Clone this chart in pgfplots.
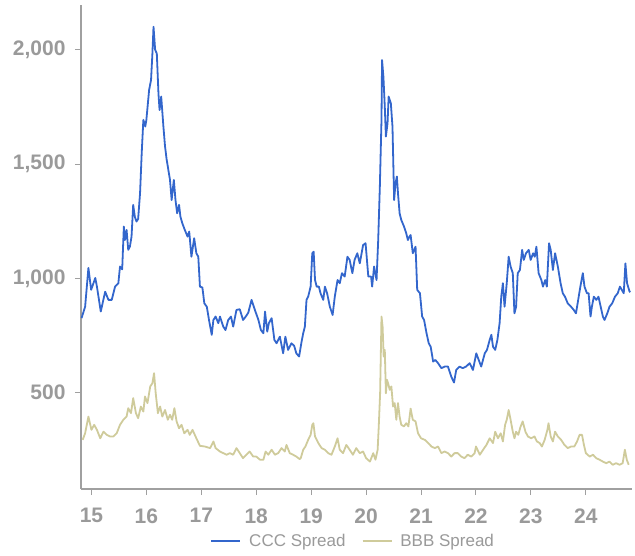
\documentclass[border=0pt]{standalone}
\usepackage{pgfplots}
\pgfplotsset{compat=1.18}
\usepackage{fontspec}
\setmainfont{Liberation Sans}

\definecolor{cccblue}{HTML}{3366CC}
\definecolor{bbbkhaki}{HTML}{CFCB9B}
\definecolor{txtgray}{HTML}{9A9A9A}
\definecolor{axgray}{HTML}{A0A0A0}

% CCC spread (x = year, 15 = 2015)
\pgfplotstableread{
x y
14.82 826
14.885 876
14.945 1046
14.995 950
15.07 1002
15.10 964
15.17 855
15.25 942
15.31 906
15.37 906
15.43 964
15.49 979
15.52 1052
15.56 1040
15.59 1227
15.61 1168
15.64 1212
15.67 1125
15.70 1139
15.73 1183
15.76 1322
15.79 1270
15.82 1249
15.85 1260
15.885 1373
15.915 1548
15.945 1694
15.98 1665
16.00 1694
16.05 1825
16.085 1869
16.11 1985
16.13 2102
16.16 2000
16.19 1985
16.22 1810
16.24 1737
16.27 1796
16.31 1665
16.34 1577
16.37 1519
16.39 1490
16.43 1431
16.46 1343
16.50 1431
16.53 1343
16.56 1285
16.595 1322
16.62 1270
16.655 1241
16.70 1212
16.75 1183
16.78 1205
16.82 1095
16.87 1176
16.91 1110
16.945 1095
16.975 964
17.02 960
17.055 891
17.10 876
17.14 818
17.19 753
17.22 818
17.26 833
17.31 804
17.34 833
17.40 789
17.44 774
17.49 818
17.54 833
17.58 789
17.64 862
17.70 865
17.76 818
17.81 833
17.855 850
17.915 906
17.975 862
18.04 818
18.085 774
18.13 760
18.16 855
18.20 767
18.23 804
18.28 826
18.33 731
18.37 716
18.43 745
18.49 672
18.53 745
18.58 687
18.64 716
18.69 705
18.73 672
18.78 658
18.82 716
18.855 760
18.885 789
18.915 906
18.945 920
18.99 964
19.02 1110
19.045 1117
19.07 993
19.10 964
19.14 964
19.17 935
19.22 906
19.25 964
19.29 935
19.34 876
19.39 840
19.43 920
19.48 993
19.52 979
19.56 1023
19.61 1008
19.66 1095
19.70 1081
19.75 1023
19.79 1081
19.84 1110
19.885 1066
19.945 1146
19.99 1154
20.04 1008
20.09 1008
20.11 964
20.145 1052
20.19 993
20.22 1168
20.25 1402
20.28 1694
20.29 1956
20.315 1883
20.34 1752
20.36 1621
20.39 1679
20.41 1796
20.45 1767
20.48 1665
20.51 1343
20.535 1416
20.56 1446
20.58 1373
20.61 1285
20.64 1256
20.69 1227
20.73 1198
20.76 1168
20.79 1183
20.81 1190
20.85 1110
20.90 1139
20.93 950
20.98 935
21.02 833
21.055 818
21.10 760
21.14 716
21.175 701
21.22 636
21.26 643
21.31 629
21.37 607
21.43 614
21.49 614
21.55 570
21.60 544
21.64 599
21.70 614
21.76 607
21.82 614
21.885 629
21.945 599
22.005 672
22.05 643
22.095 614
22.16 672
22.20 687
22.25 731
22.28 753
22.31 701
22.35 687
22.39 731
22.43 804
22.46 920
22.49 979
22.52 876
22.56 979
22.595 1095
22.63 1052
22.67 1023
22.70 847
22.73 876
22.76 1023
22.80 1037
22.84 1125
22.87 1081
22.91 1110
22.96 1125
22.995 1081
23.04 1110
23.07 1095
23.10 1139
23.14 1023
23.19 993
23.22 964
23.26 993
23.29 964
23.33 1154
23.36 1125
23.40 1037
23.44 1110
23.49 1052
23.54 979
23.58 935
23.62 920
23.67 891
23.73 876
23.78 862
23.82 847
23.87 920
23.90 964
23.945 1023
23.975 964
24.02 935
24.05 935
24.085 833
24.11 876
24.145 920
24.19 906
24.23 920
24.27 876
24.31 833
24.34 818
24.39 847
24.43 876
24.48 891
24.53 920
24.58 935
24.62 964
24.655 950
24.69 935
24.72 1066
24.75 979
24.795 943
24.81 940
}\ccc

% BBB spread
\pgfplotstableread{
x y
14.84 293
14.885 322
14.945 395
15.00 337
15.05 359
15.10 337
15.16 300
15.22 329
15.28 315
15.34 308
15.40 308
15.46 322
15.52 359
15.58 381
15.64 395
15.67 432
15.72 410
15.76 476
15.81 410
15.85 388
15.90 439
15.945 417
15.975 483
16.02 454
16.07 527
16.11 541
16.14 585
16.17 497
16.21 410
16.25 439
16.29 395
16.34 424
16.39 381
16.43 403
16.47 381
16.51 432
16.55 374
16.595 344
16.64 359
16.69 322
16.75 337
16.79 315
16.84 337
16.91 300
16.975 267
17.065 264
17.16 257
17.22 286
17.26 257
17.34 242
17.40 235
17.46 228
17.52 235
17.58 228
17.64 257
17.70 235
17.76 213
17.82 228
17.88 242
17.945 220
18.00 220
18.07 206
18.13 206
18.17 242
18.22 228
18.28 250
18.34 228
18.40 235
18.46 257
18.52 242
18.55 271
18.61 235
18.67 228
18.73 220
18.79 209
18.81 213
18.855 250
18.895 264
18.945 293
18.99 315
19.02 359
19.04 366
19.07 308
19.13 279
19.19 257
19.25 250
19.31 235
19.37 228
19.43 264
19.48 300
19.52 250
19.58 235
19.64 271
19.70 250
19.76 228
19.82 257
19.885 235
19.945 242
20.00 213
20.07 198
20.13 235
20.17 206
20.21 250
20.23 352
20.255 497
20.28 833
20.30 789
20.32 658
20.34 687
20.36 497
20.38 556
20.40 541
20.43 512
20.46 527
20.49 439
20.52 454
20.55 381
20.58 454
20.61 395
20.64 359
20.69 352
20.73 366
20.77 352
20.81 430
20.85 381
20.90 374
20.945 322
21.00 300
21.07 293
21.13 279
21.19 264
21.25 257
21.31 264
21.37 235
21.43 242
21.49 235
21.55 220
21.61 235
21.67 235
21.73 220
21.79 213
21.85 228
21.915 220
21.975 235
22.00 264
22.07 228
22.13 250
22.19 271
22.25 300
22.31 279
22.35 329
22.40 300
22.45 322
22.49 286
22.53 359
22.56 381
22.595 424
22.63 381
22.67 329
22.70 300
22.73 329
22.77 315
22.81 350
22.85 374
22.90 329
22.945 308
23.005 300
23.065 308
23.11 286
23.16 279
23.20 264
23.25 293
23.30 337
23.32 366
23.36 308
23.40 286
23.44 329
23.49 308
23.55 293
23.61 271
23.67 257
23.73 264
23.79 264
23.84 286
23.885 315
23.93 315
23.965 271
24.00 235
24.07 220
24.13 228
24.19 213
24.25 206
24.31 198
24.37 191
24.43 198
24.49 184
24.55 191
24.615 184
24.67 191
24.71 250
24.745 206
24.78 184
}\bbb

\begin{document}
\begin{tikzpicture}
\path[use as bounding box] (-81pt,-66pt) rectangle (554pt,489pt);
\begin{axis}[
  at={(0,0)}, anchor=south west,
  scale only axis,
  width=551pt, height=484pt,
  xmin=14.81, xmax=24.84,
  ymin=78, ymax=2197,
  axis x line*=bottom, axis y line*=left,
  axis line style={draw=axgray, line width=1.5pt, -},
  xtick={15,...,24},
  ytick={500,1000,1500,2000},
  tick align=outside,
  major tick length=6pt,
  tick style={draw=axgray, line width=1pt},
  ticklabel style={font=\fontsize{21}{25}\selectfont\bfseries, text=txtgray},
  xticklabel style={yshift=-10pt},
  yticklabel style={xshift=-6pt},
  /pgf/number format/.cd, 1000 sep={,}, assume math mode=true,
  /pgfplots/.cd,
  legend columns=2,
  legend style={at={(0.494,-0.107)}, anchor=center, draw=none,
    font=\fontsize{17}{20}\selectfont, text=txtgray,
    /tikz/every odd column/.append style={column sep=6pt},
    /tikz/every even column/.append style={column sep=14pt}},
  legend image code/.code={\draw[#1] (0pt,0pt) -- (29pt,0pt);},
]
\addplot[cccblue, line width=1.8pt, line join=round] table[x=x, y=y] {\ccc};
\addlegendentry{CCC Spread}
\addplot[bbbkhaki, line width=1.8pt, line join=round] table[x=x, y=y] {\bbb};
\addlegendentry{BBB Spread}
\end{axis}
\end{tikzpicture}
\end{document}
